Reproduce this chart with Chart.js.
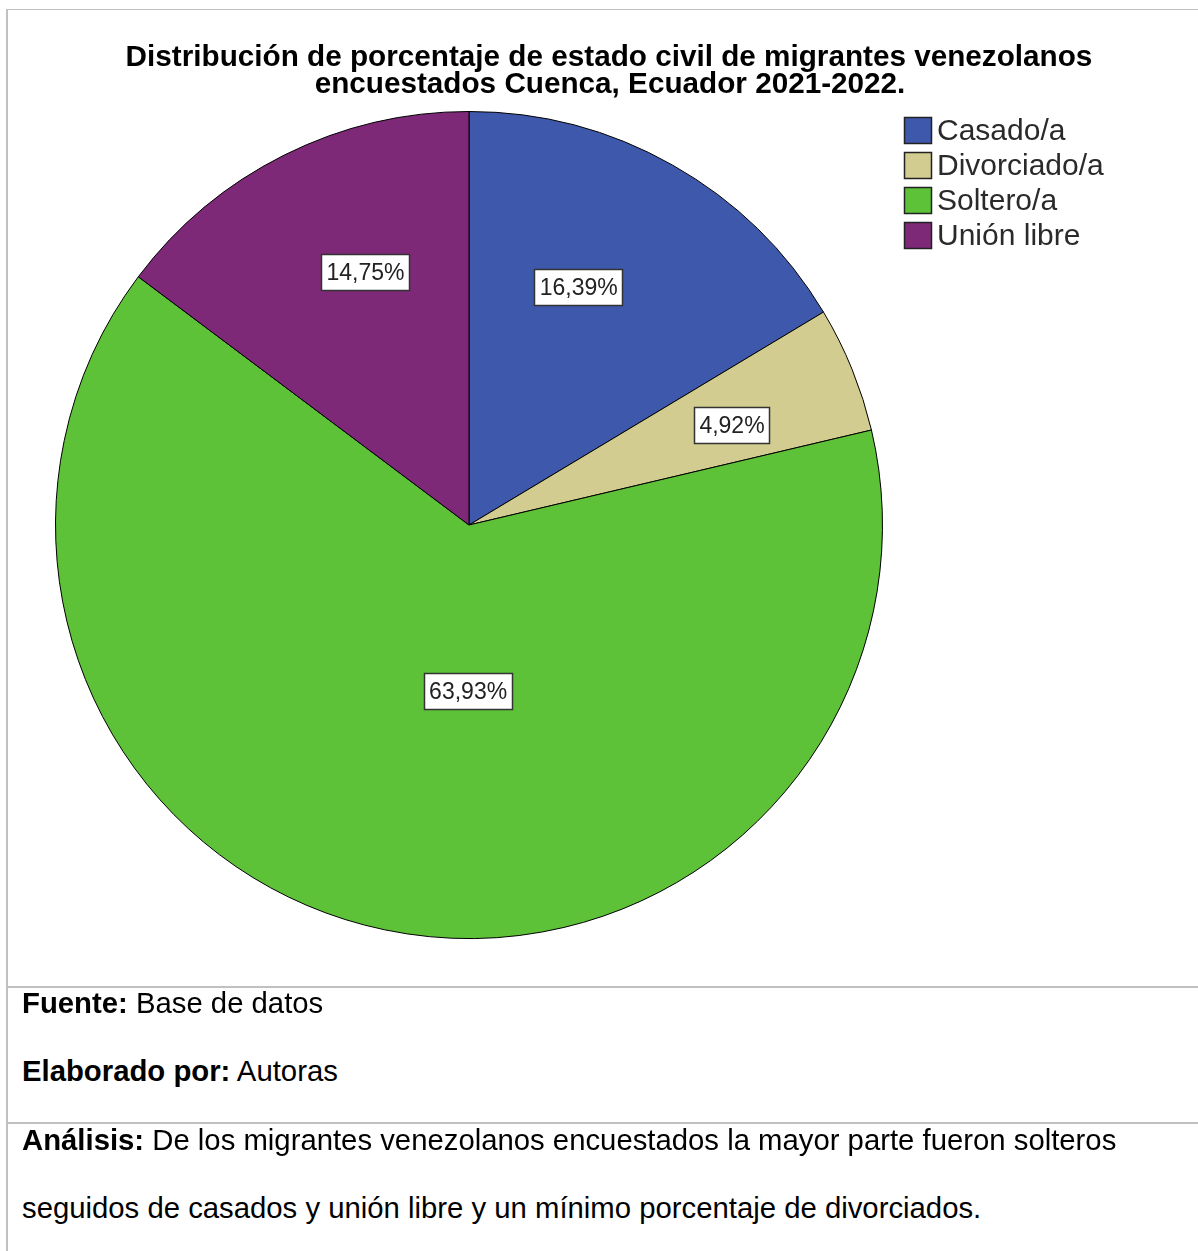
<!DOCTYPE html>
<html>
<head>
<meta charset="utf-8">
<script src="https://cdn.jsdelivr.net/npm/chart.js@4"></script>
<style>
  body { margin: 0; background: #fff; font-family: "Liberation Sans", Arial, sans-serif; }
  #page { position: relative; width: 1198px; height: 1251px; overflow: hidden; }
  #pie { position: absolute; left: 0; top: 0; }
  .hl { position: absolute; left: 7px; width: 1191px; background: #c0c0c0; }
  .vl { position: absolute; left: 6px; width: 2px; top: 9px; height: 1242px; background: #c0c0c0; }
  .txt { position: absolute; left: 22px; font-size: 29.3px; line-height: 28px; color: #000; white-space: nowrap; }
</style>
</head>
<body>
<div id="page">
  <canvas id="pie" width="1198" height="986"></canvas>
  <div class="vl"></div>
  <div class="hl" style="top:9px;height:1px;"></div>
  <div class="hl" style="top:986px;height:2px;"></div>
  <div class="hl" style="top:1122px;height:2px;"></div>
  <div class="txt" style="top:989px;"><b>Fuente:</b> Base de datos</div>
  <div class="txt" style="top:1057px;"><b>Elaborado por:</b> Autoras</div>
  <div class="txt" style="top:1126px;"><b>Análisis:</b> De los migrantes venezolanos encuestados la mayor parte fueron solteros</div>
  <div class="txt" style="top:1194px;">seguidos de casados y unión libre y un mínimo porcentaje de divorciados.</div>
</div>
<script>
const titleLines = ['Distribución de porcentaje de estado civil de migrantes venezolanos', 'encuestados Cuenca, Ecuador 2021-2022.'];
const categories = ['Casado/a', 'Divorciado/a', 'Soltero/a', 'Unión libre'];
const percentages = [16.39, 4.92, 63.93, 14.75];
const colors = ['#3e58ac', '#d2cc90', '#5ec238', '#7e2878'];

const FONT = '"Liberation Sans", Arial, sans-serif';

// titulo, leyenda y etiquetas dibujadas a mano (estilo SPSS)
const spssPlugin = {
  id: 'spss',
  afterDraw(chart, args, opts) {
    const ctx = chart.ctx;
    ctx.save();

    // titulo
    ctx.fillStyle = '#000';
    ctx.font = 'bold 29.7px ' + FONT;
    ctx.textAlign = 'center';
    ctx.textBaseline = 'alphabetic';
    ctx.fillText(titleLines[0], 609, 66);
    ctx.fillText(titleLines[1], 610, 93);

    // etiquetas de porcentaje
    const arcs = chart.getDatasetMeta(0).data;
    ctx.font = '23px ' + FONT;
    ctx.textAlign = 'center';
    ctx.textBaseline = 'middle';
    arcs.forEach((arc, i) => {
      const p = arc.getProps(['x', 'y', 'startAngle', 'endAngle', 'outerRadius'], true);
      const pos = opts.labelPos[i];
      const a = p.startAngle + (p.endAngle - p.startAngle) * pos.t;
      const d = p.outerRadius * pos.r;
      const cx = p.x + Math.cos(a) * d;
      const cy = p.y + Math.sin(a) * d;
      const txt = percentages[i].toFixed(2).replace('.', ',') + '%';
      const w = Math.round(ctx.measureText(txt).width + 11);
      const h = 37;
      const bx = Math.round(cx - w / 2), by = Math.round(cy - h / 2);
      ctx.fillStyle = '#fff';
      ctx.fillRect(bx, by, w, h);
      ctx.strokeStyle = '#333';
      ctx.lineWidth = 1.5;
      ctx.strokeRect(bx + 0.5, by + 0.5, w - 1, h - 1);
      ctx.fillStyle = '#222';
      ctx.fillText(txt, cx, cy + 1);
    });

    // leyenda
    ctx.font = '30px ' + FONT;
    ctx.textAlign = 'left';
    ctx.textBaseline = 'alphabetic';
    categories.forEach((c, i) => {
      const y = 117 + i * 35;
      ctx.fillStyle = colors[i];
      ctx.fillRect(904, y, 28, 27);
      ctx.strokeStyle = '#222';
      ctx.lineWidth = 1.5;
      ctx.strokeRect(904.5, y + 0.5, 27, 26);
      ctx.fillStyle = '#2a2a2a';
      ctx.fillText(c, 937, y + 23);
    });
    ctx.restore();
  }
};

new Chart(document.getElementById('pie'), {
  type: 'pie',
  data: {
    labels: categories,
    datasets: [{
      data: percentages,
      backgroundColor: colors,
      borderColor: '#000',
      borderWidth: 1
    }]
  },
  options: {
    responsive: false,
    animation: false,
    layout: { padding: { left: 55, top: 111, right: 315, bottom: 47 } },
    plugins: {
      legend: { display: false },
      tooltip: { enabled: false },
      title: { display: false },
      spss: {
        // posicion de la etiqueta: fraccion del angulo del sector y del radio
        labelPos: [{ t: 0.42, r: 0.633 }, { t: 0.58, r: 0.68 }, { t: 0.45, r: 0.403 }, { t: 0.58, r: 0.66 }]
      }
    }
  },
  plugins: [spssPlugin]
});
</script>
</body>
</html>
